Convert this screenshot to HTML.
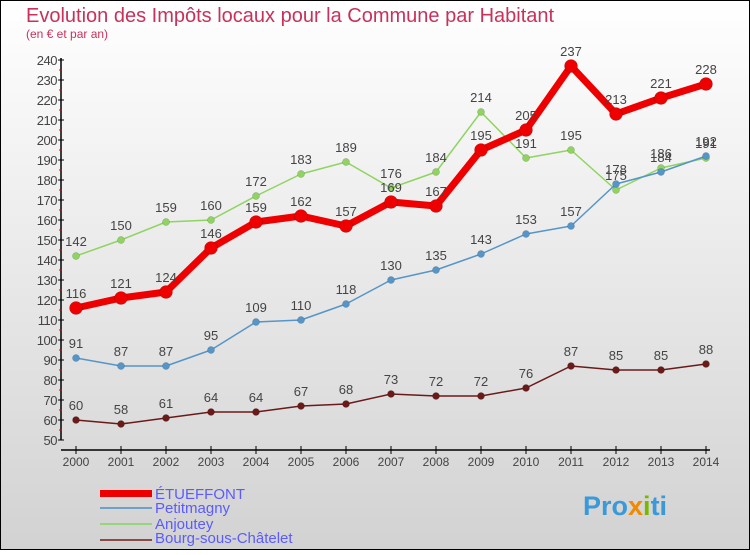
<!DOCTYPE html>
<html><head><meta charset="utf-8"><style>
body{margin:0;width:750px;height:550px;overflow:hidden;font-family:"Liberation Sans","DejaVu Sans",sans-serif}
</style></head><body>
<svg id="c" width="750" height="550" xmlns="http://www.w3.org/2000/svg">
<defs><linearGradient id="bg" x1="0" y1="0" x2="0" y2="1"><stop offset="0" stop-color="#ffffff"/><stop offset="1" stop-color="#d2d2d2"/></linearGradient></defs>
<rect x="0.5" y="0.5" width="749" height="549" fill="url(#bg)" stroke="#000"/>
<text x="26" y="22" font-size="20" fill="#c8325a">Evolution des Impôts locaux pour la Commune par Habitant</text>
<text x="26" y="38" font-size="12" fill="#c8325a">(en € et par an)</text>
<g id="axes"></g><g id="series"></g>
<g>
<rect x="100" y="490" width="52" height="7" fill="#ee0000"/>
<text x="155" y="499" font-size="15" fill="#5b5bff">ÉTUEFFONT</text>
<rect x="100" y="507" width="52" height="2" fill="#6fa0c8"/>
<text x="155" y="513" font-size="15" fill="#5b5bff">Petitmagny</text>
<rect x="100" y="523" width="52" height="2" fill="#99d57a"/>
<text x="155" y="529" font-size="15" fill="#5b5bff">Anjoutey</text>
<rect x="100" y="539" width="52" height="2" fill="#8a4a4a"/>
<text x="155" y="543" font-size="15" fill="#5b5bff">Bourg-sous-Châtelet</text>
</g>
<text x="583" y="515" font-size="27" font-weight="bold" fill="#3a9ad9">Pro<tspan fill="#f08a00">x</tspan><tspan fill="#7ab800">i</tspan>ti</text>
</svg>
<script>
const years=[2000,2001,2002,2003,2004,2005,2006,2007,2008,2009,2010,2011,2012,2013,2014];
const etueffont=[116,121,124,146,159,162,157,169,167,195,205,237,213,221,228];
const petitmagny=[91,87,87,95,109,110,118,130,135,143,153,157,178,184,192];
const anjoutey=[142,150,159,160,172,183,189,176,184,214,191,195,175,186,191];
const bourg=[60,58,61,64,64,67,68,73,72,72,76,87,85,85,88];
const yTicks=[50,60,70,80,90,100,110,120,130,140,150,160,170,180,190,200,210,220,230,240];
const NS="http://www.w3.org/2000/svg";
const X=i=>76+i*45, Y=v=>60+(240-v)*2;
function mk(t,a,p){const e=document.createElementNS(NS,t);for(const k in a)e.setAttribute(k,a[k]);p.appendChild(e);return e;}
const ax=document.getElementById('axes');
let l=mk('line',{x1:61,y1:58,x2:61,y2:440,stroke:'#000','stroke-width':1.5},ax);


l=mk('line',{x1:61,y1:450,x2:710,y2:450,stroke:'#000','stroke-width':1.5},ax);


yTicks.forEach(v=>{
 mk('line',{x1:58,y1:Y(v),x2:64,y2:Y(v),stroke:'#000'},ax);
 if(v<240) mk('line',{x1:59,y1:Y(v+5),x2:62,y2:Y(v+5),stroke:'#e00'},ax);
 const t=mk('text',{x:57,y:Y(v)+5,'text-anchor':'end','font-size':13,fill:'#444','letter-spacing':'-0.5'},ax);
 t.textContent=v;
 
 
});
years.forEach((y,i)=>{
 mk('line',{x1:X(i),y1:446,x2:X(i),y2:454,stroke:'#000'},ax);
 const t=mk('text',{x:X(i),y:466,'text-anchor':'middle','font-size':12,fill:'#444'},ax);
 t.textContent=y;
 
 
});
const sg=document.getElementById('series');
function series(vals,color,w,r,name){
 const g=mk('g',{},sg);
 
 
 const pts=vals.map((v,i)=>X(i)+','+Y(v)).join(' ');
 mk('polyline',{points:pts,fill:'none',stroke:color,'stroke-width':w,'stroke-linejoin':'round'},g);
 vals.forEach((v,i)=>{
  const c=mk('circle',{cx:X(i),cy:Y(v),r:r,fill:color,stroke:'#0004','stroke-width':0.5},g);
  
  
  const t=mk('text',{x:X(i),y:Y(v)-10,'text-anchor':'middle','font-size':13,fill:'#444'},g);
  t.textContent=v;
  
  
 });
}
series(bourg,'#6b1a1a',1.5,3.5,'bourg-sous-chatelet');
series(anjoutey,'#8fd460',1.5,3.5,'anjoutey');
series(petitmagny,'#5595c8',1.5,3.5,'petitmagny');
series(etueffont,'#ee0000',7,6.5,'etueffont');
</script>
</body></html>
